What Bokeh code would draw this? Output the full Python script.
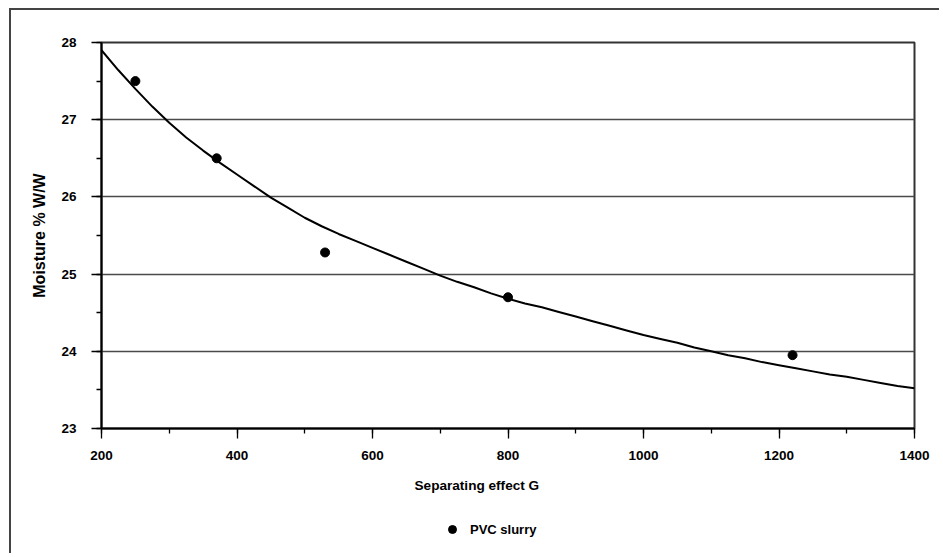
from bokeh.plotting import figure
from bokeh.layouts import column, row
from bokeh.models import (SingleIntervalTicker, Range1d, Legend, LegendItem,
                          ColumnDataSource, Title, Spacer)
from bokeh.embed import file_html
from bokeh.resources import INLINE

# ---- data ----
curve_x = [200, 225, 250, 275, 300, 325, 350, 375, 400, 425, 450, 475, 500,
           525, 550, 575, 600, 625, 650, 675, 700, 725, 750, 775, 800, 825,
           850, 875, 900, 925, 950, 975, 1000, 1025, 1050, 1075, 1100, 1125,
           1150, 1175, 1200, 1225, 1250, 1275, 1300, 1325, 1350, 1375, 1400]
curve_y = [27.90, 27.64, 27.40, 27.17, 26.96, 26.77, 26.60, 26.44, 26.29, 26.14,
           25.99, 25.86, 25.73, 25.62, 25.52, 25.43, 25.34, 25.25, 25.16, 25.07,
           24.98, 24.90, 24.83, 24.75, 24.68, 24.62, 24.57, 24.51, 24.45, 24.39,
           24.33, 24.27, 24.21, 24.16, 24.11, 24.05, 24.00, 23.95, 23.91, 23.86,
           23.82, 23.78, 23.74, 23.70, 23.67, 23.63, 23.59, 23.55, 23.52]
pts_x = [250, 370, 530, 800, 1220]
pts_y = [27.50, 26.50, 25.28, 24.70, 23.95]
series_name = "PVC slurry"
x_title = "Separating effect G"
y_title = "Moisture % W/W"

FONT = "Liberation Sans"
BORDER = "2px solid #444444"

W, HM, HL = 930, 505, 40
p = figure(width=W, height=HM, output_backend="svg", toolbar_location=None,
           x_range=Range1d(200, 1400), y_range=Range1d(23, 28),
           min_border_left=90, min_border_right=27, min_border_top=32,
           min_border_bottom=87)
p.styles = {"border-left": BORDER, "border-top": BORDER}
p.background_fill_color = "white"
p.border_fill_color = "white"
p.outline_line_color = "#333333"
p.outline_line_width = 2

p.xgrid.grid_line_color = None
p.ygrid.grid_line_color = "#4a4a4a"
p.ygrid.grid_line_width = 1.4
p.ygrid.ticker = SingleIntervalTicker(interval=1)

p.xaxis.ticker = SingleIntervalTicker(interval=200, num_minor_ticks=2)
p.yaxis.ticker = SingleIntervalTicker(interval=1, num_minor_ticks=2)
for ax in (p.xaxis, p.yaxis):
    ax.axis_line_color = "black"
    ax.axis_line_width = 2
    ax.major_tick_line_color = "black"
    ax.minor_tick_line_color = "black"
    ax.major_tick_line_width = 1.3
    ax.minor_tick_line_width = 1.3
    ax.major_tick_in = 0
    ax.major_tick_out = 10
    ax.minor_tick_in = 0
    ax.minor_tick_out = 5
    ax.major_label_text_font = FONT
    ax.major_label_text_font_style = "bold"
    ax.major_label_text_font_size = "13.5px"
    ax.major_label_text_color = "black"
p.yaxis.major_label_standoff = 15
p.xaxis.major_label_standoff = 12

p.yaxis.axis_label = y_title
p.yaxis.axis_label_text_font = FONT
p.yaxis.axis_label_text_font_style = "bold"
p.yaxis.axis_label_text_font_size = "16px"
p.yaxis.axis_label_text_color = "black"
p.yaxis.axis_label_standoff = 10

src_c = ColumnDataSource(dict(x=curve_x, y=curve_y))
src_p = ColumnDataSource(dict(x=pts_x, y=pts_y))
p.line("x", "y", source=src_c, line_color="black", line_width=2)
p.scatter("x", "y", source=src_p, size=9, marker="circle",
          fill_color="black", line_color="black")

p.add_layout(Title(text=x_title, align="left", offset=313, standoff=27,
                   text_font=FONT, text_font_style="bold",
                   text_font_size="13.6px", text_color="black"), "below")

# legend strip below the chart (its frame is aligned with the chart's frame)
pl = figure(width=W, height=HL, output_backend="svg", toolbar_location=None,
            x_range=Range1d(0, 1), y_range=Range1d(0, 1),
            x_axis_location=None, y_axis_location=None,
            min_border_left=0, min_border_right=0, min_border_top=0,
            min_border_bottom=0)
pl.styles = {"border-left": BORDER}
pl.grid.visible = False
pl.outline_line_color = None
pl.background_fill_color = "white"
pl.border_fill_color = "white"
# same series, outside this strip's ranges: only its legend swatch is visible
leg_r = pl.scatter("x", "y", source=src_p, size=9, marker="circle",
                   fill_color="black", line_color="black")
legend = Legend(items=[LegendItem(label=series_name, renderers=[leg_r])],
                location=(341, 14), padding=0, margin=0, spacing=0,
                glyph_width=20, glyph_height=20, label_standoff=8,
                border_line_color=None, background_fill_alpha=0,
                label_text_font=FONT, label_text_font_style="bold",
                label_text_font_size="13px", label_text_color="black")
pl.add_layout(legend)

layout = row(Spacer(width=9), column(Spacer(height=8), p, pl, spacing=0), spacing=0)
open("out.html", "w").write(file_html(layout, INLINE))
